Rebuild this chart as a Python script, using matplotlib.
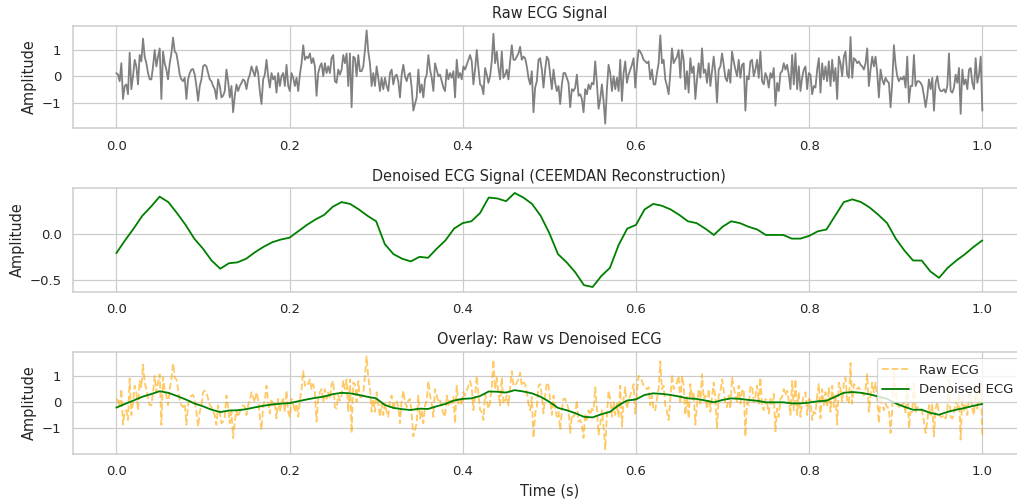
import numpy as np
import matplotlib
matplotlib.use("Agg")
import matplotlib.pyplot as plt
import seaborn as sns

# raw ECG samples (uniformly spaced over 0..1 s)
raw_ecg = [
    0.12, 0.06, -0.19, 0.49, -0.86, -0.37, -0.31, -0.68, 0.89, -0.49,
    0.0, 0.62, 0.37, -0.31, 0.80, 0.56, 1.42, 0.74, 0.49, 0.12,
    -0.12, -0.12, 0.37, 0.99, 0.37, 0.74, 1.05, -0.86, 0.93, 0.49,
    0.25, -0.12, 0.49, 0.86, 1.46, 0.93, 0.86, 0.49, 0.06, -0.12,
    -0.19, -0.06, -0.86, -0.12, 0.12, 0.25, 0.27, 0.06, -0.37, -0.93,
    -0.37, -0.12, 0.37, 0.43, 0.37, 0.12, -0.12, -0.19, -0.37, -0.49,
    -0.86, -0.12, -0.37, -0.80, -0.74, -0.56, 0.25, -0.19, -0.80, -0.37,
    -1.36, -0.74, -0.31, -0.56, -0.37, -0.25, -0.12, -0.19, -0.49, -0.12,
    0.06, 0.37, 0.19, 0.0, 0.37, 0.12, -0.56, -1.05, -0.12, 0.06,
    0.62, 0.0, -0.43, 0.12, -0.12, 0.0, -0.62, 0.12, -0.37, 0.0,
    0.12, -0.37, 0.43, -0.37, -0.56, 0.12, -0.06, -0.37, -0.06, -0.56,
    0.06, 0.49, 1.17, 0.62, 0.74, 0.68, 0.86, 0.49, 0.68, 0.37,
    -0.74, 0.12, 0.37, 0.49, 0.0, 0.49, 0.12, 0.37, 0.12,
    # 0.25 .. 0.50 s
    0.68, 0.80, -0.19, -0.25, 0.25, 0.06, 0.25, 0.80, 0.49, 0.86,
    -0.37, 0.86, -1.17, 0.74, 0.68, 0.0, 0.80, 0.19, 0.19, 0.37,
    0.99, 1.73, 0.93, 0.49, -0.37, 0.12, -0.37, 0.37, -0.06, -0.56,
    -0.06, -0.49, -0.06, -0.37, -0.56, 0.12, 0.25, -0.31, 0.0, 0.06,
    -0.19, -0.80, 0.06, 0.43, 0.0, -0.19, 0.06, 0.12, -0.43, -1.30,
    -1.05, -0.80, 0.25, -0.62, -0.31, -0.80, -0.12, 0.06, 0.80, 0.25,
    -0.06, -0.56, 0.49, 0.25, 0.0, 0.06, -0.19, -0.43, -0.56, 0.25,
    -0.12, 0.12, -0.06, 0.19, -0.80, 0.62, -0.06, 0.12, -0.12, 0.37,
    0.25, 0.43, 0.62, 0.80, 0.56, -0.31, 0.25, 0.99, 0.31, -0.31,
    -0.37, -0.68, 0.31, 0.06, -0.25, 0.0, 0.56, 1.60, 0.49, 0.93,
    0.31, -0.12, 0.93, -0.06, 0.06, 0.25, -0.12, 0.56, 1.17, 0.62,
    0.62, 0.74, 0.86, 1.11, 0.62, 0.74, 0.68, 0.37, -0.06, -0.31,
    0.19, -1.36, -0.43, -0.19, 0.62, 0.68, 0.25, -0.43, 0.25, 0.74,
    0.62,
    # 0.50 .. 0.75 s
    0.06, -0.49, 0.25, -0.25, -0.56, -0.37, -1.05, -0.31, 0.12, 0.12,
    -0.06, -0.25, -1.17, -0.49, -0.56, -0.43, 0.06, -0.74, -0.68, -0.86,
    -1.36, -0.49, -0.68, -0.31, -0.49, -0.25, -0.31, 0.56, -0.25, -1.23,
    -0.86, -0.31, -0.93, -1.79, -0.49, 0.43, 0.12, -0.56, 0.0, -0.49,
    -0.06, -0.56, 0.62, -0.93, 0.12, 0.56, -0.25, 0.06, 0.25, 0.43,
    0.68, -0.43, 0.37, 0.99, 0.93, 0.80, 0.62, 0.56, 0.49, 0.56,
    -0.12, 0.25, -0.31, -0.31, 0.12, 0.49, 1.54, 0.49, 0.62, -0.12,
    -0.37, -0.68, 0.12, 1.05, 0.49, 0.62, 0.74, 0.99, -0.06, 0.99,
    0.62, -0.49, 0.19, -0.62, 0.68, 0.12, 0.37, -0.86, -0.12, 0.49,
    -0.06, 1.05, 0.12, 0.25, -0.25, 0.49, -0.37, 0.19, 0.74, 0.12,
    -0.99, 0.25, 0.37, 0.86, 0.43, -0.06, -0.19, 0.25, -0.25, 0.93,
    0.56, 0.25, 0.0, 0.62, -0.06, 0.43, 0.49, -1.30, 0.0, -0.12,
    0.56, 0.62, 0.0, 0.25, 0.62, -0.06, 0.93, -0.19, -0.31, 0.12,
    -0.06, -0.43,
    # 0.75 .. 1.00 s
    0.12, -0.06, 0.31, -1.11, -0.25, -0.56, 0.12, 0.19, 0.49, 0.25,
    0.43, 0.06, -0.49, 0.80, -0.31, 0.86, -0.49, 0.37, -0.56, -0.06,
    0.25, 0.37, -0.49, 0.12, 0.06, -0.68, -0.37, -0.43, 0.25, 0.68,
    -0.62, 0.49, -0.12, 0.37, -0.19, 0.56, -0.37, 0.62, -0.19, 0.31,
    -0.86, 0.74, 0.49, 0.0, 0.74, 0.93, 0.06, -0.06, 1.48, -0.06,
    0.68, 0.62, 0.49, 0.56, 0.43, 0.37, 0.25, 0.49, 1.05, -0.37,
    0.25, 0.74, 0.37, 0.74, 0.12, -0.80, 0.25, -0.12, -0.31, -0.06,
    -0.19, -0.25, -1.17, -0.25, 1.17, 0.43, 0.0, -0.19, -0.06, -0.12,
    0.0, -0.43, 0.74, -0.99, -0.37, -0.37, 0.80, -0.37, -0.19, -0.19,
    -0.25, -0.37, -0.74, -1.17, -0.74, -0.12, -0.49, -0.06, -1.30, -0.25,
    0.0, -0.43, -0.56, -0.56, -0.49, -0.62, -0.37, 0.86, -0.56, -0.62,
    -0.43, 0.06, -0.25, 0.31, -1.42, 0.25, -0.31, -0.12, -0.49, 0.25,
    0.31, -0.25, -0.49, 0.68, -0.25, 0.06, 0.74, -1.30,
]

# CEEMDAN reconstruction, read every 0.01 s from the middle panel
denoised_ecg = [
    -0.21, -0.07, 0.06, 0.20, 0.30, 0.41, 0.35, 0.23, 0.10, -0.05,
    -0.16, -0.29, -0.38, -0.32, -0.31, -0.27, -0.20, -0.14, -0.09, -0.06,
    -0.04, 0.03, 0.10, 0.16, 0.21, 0.30, 0.35, 0.33, 0.27, 0.20,
    0.14, -0.11, -0.22, -0.27, -0.30, -0.25, -0.26, -0.16, -0.07, 0.06,
    0.12, 0.14, 0.23, 0.40, 0.39, 0.36, 0.45, 0.40, 0.33, 0.20,
    0.01, -0.22, -0.31, -0.42, -0.56, -0.58, -0.46, -0.37, -0.12, 0.06,
    0.10, 0.27, 0.33, 0.31, 0.27, 0.21, 0.14, 0.12, 0.06, -0.01,
    0.08, 0.14, 0.12, 0.08, 0.05, -0.01, -0.01, -0.01, -0.05, -0.05,
    -0.02, 0.03, 0.05, 0.20, 0.35, 0.38, 0.35, 0.29, 0.21, 0.12,
    -0.05, -0.18, -0.29, -0.29, -0.41, -0.48, -0.37, -0.29, -0.22, -0.14,
    -0.07,
]

t_raw = np.linspace(0, 1, len(raw_ecg))
t_den = np.linspace(0, 1, len(denoised_ecg))

sns.set_theme(style="whitegrid")

dpi = 87
fig = plt.figure(figsize=(1017 / dpi, 501 / dpi), dpi=dpi)

left, width = 0.0718, 0.9367
ax1 = fig.add_axes([left, 0.7439, width, 0.2048])
ax2 = fig.add_axes([left, 0.4178, width, 0.2064])
ax3 = fig.add_axes([left, 0.0938, width, 0.2042])

ax1.plot(t_raw, raw_ecg, color="gray")
ax1.set_title("Raw ECG Signal")
ax1.set_ylabel("Amplitude")

ax2.plot(t_den, denoised_ecg, color="green")
ax2.set_title("Denoised ECG Signal (CEEMDAN Reconstruction)")
ax2.set_ylabel("Amplitude")
ax2.set_yticks([-0.5, 0.0])

ax3.plot(t_raw, raw_ecg, color="orange", linestyle="--", alpha=0.6, label="Raw ECG")
ax3.plot(t_den, denoised_ecg, color="green", label="Denoised ECG")
ax3.set_title("Overlay: Raw vs Denoised ECG")
ax3.set_ylabel("Amplitude")
ax3.set_xlabel("Time (s)")
ax3.legend(loc="upper right")

fig.savefig("out.png", dpi=dpi)
